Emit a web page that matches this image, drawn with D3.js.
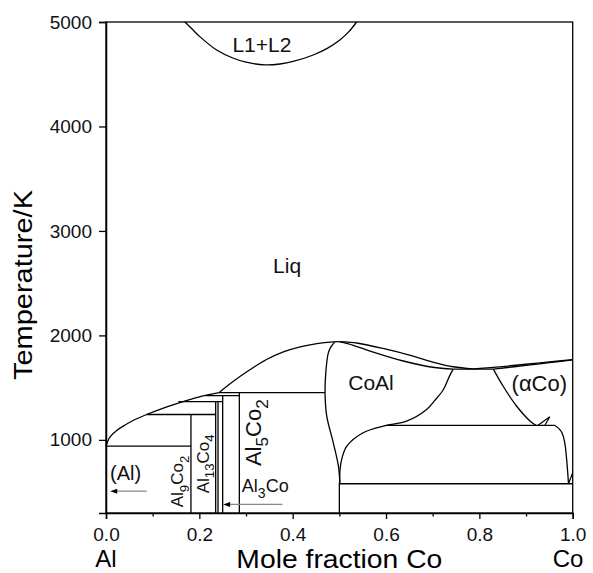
<!DOCTYPE html>
<html>
<head>
<meta charset="utf-8">
<script src="https://cdn.jsdelivr.net/npm/d3@7"></script>
<style>
  body { margin: 0; background: #fff; }
  svg { font-family: "Liberation Sans", Arial, sans-serif; }
</style>
</head>
<body>
<div id="chart"></div>
<script>
// axis ticks
const xTicks = [0, 0.2, 0.4, 0.6, 0.8, 1.0];
const xMinorTicks = [0.1, 0.3, 0.5, 0.7, 0.9];
const yTicks = [1000, 2000, 3000, 4000, 5000];

// phase boundaries, [mole fraction Co, T in K]
const gapL1L2 = [[0.169, 5000], [0.185, 4930], [0.201, 4860], [0.237, 4732], [0.273, 4653], [0.30, 4615],
  [0.341, 4589], [0.373, 4598], [0.401, 4622], [0.444, 4684], [0.475, 4750], [0.501, 4828], [0.52, 4905], [0.537, 5000]];
const liquidusAl = [[0, 940], [0.004, 990], [0.01, 1035], [0.023, 1090], [0.04, 1140], [0.06, 1190], [0.087, 1243],
  [0.12, 1300], [0.15, 1345], [0.2, 1412], [0.242, 1452]];
const liquidusUp = [[0.242, 1452], [0.273, 1561], [0.309, 1673], [0.344, 1769], [0.38, 1842], [0.416, 1890],
  [0.452, 1922], [0.487, 1938], [0.50, 1940]];
const liquidusMid = [[0.50, 1940], [0.54, 1925], [0.6, 1868], [0.65, 1812], [0.7, 1745], [0.744, 1700], [0.787, 1679]];
const liquidusCo = [[0.787, 1679], [0.85, 1702], [0.9, 1724], [0.95, 1746], [1.0, 1768]];
const solidusCoAl = [[0.50, 1940], [0.53, 1905], [0.566, 1850], [0.637, 1755], [0.7, 1695], [0.744, 1677]];
const solidusCo = [[0.83, 1677], [0.9, 1713], [0.95, 1739], [1.0, 1766]];
const coAlLeft = [[0.49, 1936], [0.482, 1890], [0.4764, 1833], [0.4714, 1670], [0.4693, 1450], [0.473, 1227],
  [0.487, 972], [0.498, 749], [0.501, 590]];
const coAlRight = [[0.744, 1677], [0.737, 1620], [0.723, 1482], [0.705, 1380], [0.687, 1291], [0.644, 1179],
  [0.601, 1138], [0.551, 1068], [0.516, 940], [0.505, 813], [0.501, 685], [0.501, 590]];
const alphaCoLeft = [[0.83, 1677], [0.851, 1513], [0.88, 1322], [0.909, 1179], [0.922, 1138]];
const alphaCoSpike = [[0.925, 1138], [0.951, 1222], [0.94, 1138]];
const epsCoBoundary = [[0.962, 1138], [0.97, 1110], [0.977, 1068], [0.983, 972], [0.987, 813], [0.991, 580]];
const epsCoEdge = [[0.991, 580], [1.0, 685]];

// invariant lines: [x1, x2, T] and compound lines: [x, Tlow, Thigh]
const hLines = [[0, 0.182, 940], [0.087, 0.235, 1243], [0.155, 0.25, 1367], [0.213, 0.2857, 1424],
  [0.242, 0.4693, 1452], [0.744, 0.83, 1677], [0.601, 0.962, 1138], [0.5, 1.0, 580]];
const vLines = [[0.182, 300, 1243], [0.235, 300, 1367], [0.24, 300, 1367], [0.25, 300, 1424],
  [0.2857, 300, 1452], [0.5, 300, 590]];

// arrows: [from x, to x, T]
const arrows = [[0.087, 0.009, 509], [0.378, 0.251, 382]];

// labels: text parts [text, isSub], x, T
const labels = [
  { parts: [["L1+L2", 0]], x: 0.334, t: 4716, anchor: "middle", size: 21 },
  { parts: [["Liq", 0]], x: 0.388, t: 2597, anchor: "middle", size: 21 },
  { parts: [["(Al)", 0]], x: 0.0086, t: 612, anchor: "start", size: 20 },
  { parts: [["CoAl", 0]], x: 0.519, t: 1475, anchor: "start", size: 21 },
  { parts: [["(\u03b1Co)", 0]], x: 0.869, t: 1472, anchor: "start", size: 22 },
  { parts: [["Al", 0], ["3", 1], ["Co", 0]], x: 0.291, t: 497, anchor: "start", size: 18 },
  { parts: [["Al", 0], ["9", 1], ["Co", 0], ["2", 1]], x: 0.166, t: 354, anchor: "start", size: 17, rotate: true },
  { parts: [["Al", 0], ["13", 1], ["Co", 0], ["4", 1]], x: 0.220, t: 488, anchor: "start", size: 17, rotate: true },
  { parts: [["Al", 0], ["5", 1], ["Co", 0], ["2", 1]], x: 0.332, t: 749, anchor: "start", size: 22, rotate: true }
];

const W = 593, H = 573;
const margin = { top: 22, right: 20.3, bottom: 60, left: 106 };
const width = W - margin.left - margin.right;
const height = H - margin.top - margin.bottom;

const svg = d3.select("#chart").append("svg")
  .attr("width", W).attr("height", H);

const g = svg.append("g")
  .attr("transform", "translate(" + margin.left + "," + margin.top + ")");

const x = d3.scaleLinear().domain([0, 1]).range([0, width]);
const y = d3.scaleLinear().domain([300, 5000]).range([height, 0]);

const line = d3.line()
  .x(d => x(d[0]))
  .y(d => y(d[1]))
  .curve(d3.curveCatmullRom.alpha(0.5));

// curves
const curves = [gapL1L2, liquidusAl, liquidusUp, liquidusMid, liquidusCo, solidusCoAl, solidusCo,
  coAlLeft, coAlRight, alphaCoLeft, epsCoBoundary];
g.selectAll(".curve").data(curves).enter()
  .append("path")
  .attr("class", "curve")
  .attr("d", line)
  .style("fill", "none").style("stroke", "#000").style("stroke-width", 1.3);

const straight = d3.line().x(d => x(d[0])).y(d => y(d[1]));
g.selectAll(".poly").data([alphaCoSpike, epsCoEdge]).enter()
  .append("path")
  .attr("class", "poly")
  .attr("d", straight)
  .style("fill", "none").style("stroke", "#000").style("stroke-width", 1.2);

g.selectAll(".hline").data(hLines).enter()
  .append("line")
  .attr("x1", d => x(d[0])).attr("x2", d => x(d[1]))
  .attr("y1", d => y(d[2])).attr("y2", d => y(d[2]))
  .style("stroke", "#000").style("stroke-width", 1.3);

g.selectAll(".vline").data(vLines).enter()
  .append("line")
  .attr("x1", d => x(d[0])).attr("x2", d => x(d[0]))
  .attr("y1", d => y(d[1])).attr("y2", d => y(d[2]))
  .style("stroke", "#000").style("stroke-width", 1.3);

// arrows
g.selectAll(".arrow").data(arrows).enter()
  .append("line")
  .attr("x1", d => x(d[0])).attr("x2", d => x(d[1]) + 4)
  .attr("y1", d => y(d[2])).attr("y2", d => y(d[2]))
  .style("stroke", "#888").style("stroke-width", 1.2);
g.selectAll(".head").data(arrows).enter()
  .append("path")
  .attr("d", d => {
    const ax = x(d[1]), ay = y(d[2]);
    return "M" + ax + "," + ay + "L" + (ax + 7) + "," + (ay - 2.5) + "L" + (ax + 7) + "," + (ay + 2.5) + "Z";
  })
  .style("fill", "#000");

// labels
labels.forEach(l => {
  const px = x(l.x), py = y(l.t);
  const t = g.append("text")
    .attr("text-anchor", l.anchor)
    .attr("font-size", l.size)
    .attr("fill", "#111")
    .attr("transform", "translate(" + px + "," + py + ")" + (l.rotate ? " rotate(-90)" : ""));
  let shifted = false;
  l.parts.forEach(p => {
    const ts = t.append("tspan").text(p[0]);
    if (p[1]) {
      ts.attr("font-size", l.size * 0.78).attr("dy", shifted ? 0 : l.size * 0.3);
      shifted = true;
    } else if (shifted) {
      ts.attr("dy", -l.size * 0.3);
      shifted = false;
    }
  });
});

// frame
g.append("rect")
  .attr("x", 0).attr("y", 0).attr("width", width).attr("height", height)
  .style("fill", "none").style("stroke", "#000").style("stroke-width", 1.3);

// axes
g.append("g")
  .attr("transform", "translate(0," + height + ")")
  .call(d3.axisBottom(x).tickValues(xTicks).tickSize(6).tickPadding(9).tickFormat(d3.format(".1f")));
g.append("g")
  .attr("transform", "translate(0," + height + ")")
  .call(d3.axisBottom(x).tickValues(xMinorTicks).tickSize(3.5).tickFormat(""))
  .call(a => a.select(".domain").remove());
g.append("g")
  .call(d3.axisLeft(y).tickValues(yTicks).tickSize(7).tickPadding(7).tickFormat(d3.format("d")));

svg.selectAll(".domain").style("stroke-width", 1.5);
svg.selectAll(".tick line").style("stroke-width", 1.3);
svg.selectAll(".tick text")
  .attr("font-size", 19)
  .attr("font-family", "Liberation Sans, Arial, sans-serif")
  .attr("fill", "#111");

// axis titles
svg.append("text")
  .attr("x", margin.left + width / 2).attr("y", 568)
  .attr("text-anchor", "middle")
  .attr("font-size", 26)
  .attr("textLength", 206).attr("lengthAdjust", "spacingAndGlyphs")
  .text("Mole fraction Co");
svg.append("text")
  .attr("transform", "translate(32,285) rotate(-90)")
  .attr("text-anchor", "middle")
  .attr("font-size", 26)
  .attr("textLength", 190).attr("lengthAdjust", "spacingAndGlyphs")
  .text("Temperature/K");
svg.append("text")
  .attr("x", x(0) + margin.left).attr("y", 567)
  .attr("text-anchor", "middle")
  .attr("font-size", 24)
  .text("Al");
svg.append("text")
  .attr("x", 568).attr("y", 567)
  .attr("text-anchor", "middle")
  .attr("font-size", 24)
  .text("Co");
</script>
</body>
</html>
